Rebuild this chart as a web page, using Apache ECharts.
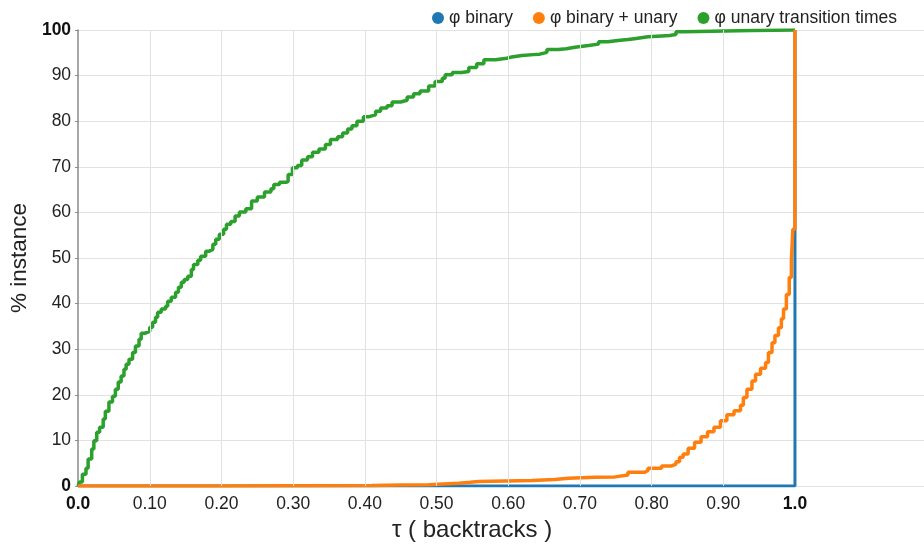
<!DOCTYPE html>
<html>
<head>
<meta charset="utf-8">
<script src="https://cdn.jsdelivr.net/npm/echarts@6/dist/echarts.min.js"></script>
<style>
  html, body { margin: 0; padding: 0; background: #fff; }
  #chart { width: 924px; height: 547px; }
</style>
</head>
<body>
<div id="chart"></div>
<script>
// Cumulative share of instances (%) solved within a given fraction tau of backtracks.
const seriesNames = ['φ binary', 'φ binary + unary', 'φ unary transition times'];

const binaryPoints = [[0, 0], [1.0, 0], [1.0, 100]];

const binaryUnaryPoints = [
  [0, 0], [0.19, 0.1], [0.41, 0.2], [0.45, 0.3], [0.489, 0.6], [0.531, 0.8], [0.547, 1.0],
  [0.559, 1.2], [0.633, 1.4], [0.665, 1.7], [0.684, 1.9], [0.721, 2.0], [0.749, 2.4],
  [0.767, 3.0], [0.790, 3.4], [0.795, 3.9], [0.814, 4.4], [0.828, 4.8], [0.834, 5.3],
  [0.839, 6.3], [0.844, 7.0], [0.851, 8.3], [0.860, 9.6], [0.869, 10.8], [0.878, 11.9],
  [0.887, 12.9], [0.896, 14.3], [0.905, 15.6], [0.915, 16.5], [0.924, 17.7], [0.928, 19.4],
  [0.933, 21.2], [0.940, 23.0], [0.945, 24.5], [0.952, 25.8], [0.959, 27.1], [0.963, 29.3],
  [0.968, 31.4], [0.972, 33.0], [0.977, 34.7], [0.981, 36.7], [0.984, 38.8], [0.988, 42.0],
  [0.992, 45.7], [0.995, 49.3], [0.997, 56.3], [1.0, 100]
];

const unaryTransitionPoints = [
  [0, 0], [0.002, 0.9], [0.006, 2.6], [0.011, 3.9], [0.014, 5.9], [0.019, 8.1], [0.022, 9.9],
  [0.026, 11.8], [0.030, 12.9], [0.035, 14.7], [0.038, 16.4], [0.043, 18.4], [0.048, 19.7],
  [0.052, 21.2], [0.056, 22.8], [0.060, 24.1], [0.064, 25.6], [0.067, 26.7], [0.071, 27.8],
  [0.076, 29.3], [0.080, 30.7], [0.085, 32.2], [0.088, 33.5], [0.093, 33.9], [0.100, 34.8],
  [0.104, 35.9], [0.108, 37.0], [0.111, 38.1], [0.116, 38.8], [0.122, 39.4], [0.125, 40.5],
  [0.130, 41.4], [0.136, 42.5], [0.140, 43.6], [0.144, 44.7], [0.148, 45.3], [0.153, 46.0],
  [0.158, 47.5], [0.161, 48.6], [0.167, 49.5], [0.171, 50.4], [0.178, 51.5], [0.183, 51.9],
  [0.188, 53.0], [0.192, 54.1], [0.197, 55.2], [0.203, 56.3], [0.207, 57.4], [0.213, 58.0],
  [0.219, 59.2], [0.225, 60.1], [0.234, 60.8], [0.242, 62.5], [0.250, 63.4], [0.260, 64.5],
  [0.269, 65.2], [0.273, 66.1], [0.281, 66.6], [0.290, 66.8], [0.293, 68.3], [0.299, 69.8],
  [0.306, 70.3], [0.312, 71.5], [0.320, 72.2], [0.327, 73.2], [0.336, 73.9], [0.345, 74.9],
  [0.352, 76.0], [0.362, 76.6], [0.369, 77.4], [0.376, 78.3], [0.382, 79.0], [0.389, 80.0],
  [0.398, 81.0], [0.406, 81.4], [0.415, 82.2], [0.422, 82.9], [0.431, 83.4], [0.438, 84.2],
  [0.450, 84.6], [0.459, 85.3], [0.468, 86.0], [0.477, 86.6], [0.489, 87.7], [0.498, 88.7],
  [0.508, 89.4], [0.512, 90.2], [0.522, 90.7], [0.535, 90.9], [0.545, 91.8], [0.556, 92.6],
  [0.566, 93.5], [0.582, 93.8], [0.598, 94.1], [0.605, 94.4], [0.619, 94.6], [0.635, 94.7],
  [0.644, 95.1], [0.654, 95.7], [0.670, 95.9], [0.681, 96.2], [0.693, 96.6], [0.712, 96.9],
  [0.726, 97.4], [0.739, 97.7], [0.753, 97.9], [0.767, 98.1], [0.776, 98.5], [0.795, 98.7],
  [0.814, 98.8], [0.825, 99.0], [0.834, 99.6], [0.846, 99.9], [0.940, 100], [1.0, 100]
];

// Axis ticks and their labels
const xTickValues = [0, 0.1, 0.2, 0.3, 0.4, 0.5, 0.6, 0.7, 0.8, 0.9, 1.0];
const xTickLabels = ['0.0', '0.10', '0.20', '0.30', '0.40', '0.50', '0.60', '0.70', '0.80', '0.90', '1.0'];
const xGridValues = [0.1, 0.2, 0.3, 0.4, 0.5, 0.6, 0.7, 0.8, 0.9];
const yBoldLabels = [0, 100];

const colors = ['#1f77b4', '#ff7f0e', '#2ca02c'];
const font = '"Liberation Sans", Arial, Helvetica, sans-serif';
const tickFontSize = 17.5;

function xLabel(v) {
  for (let i = 0; i < xTickValues.length; i++) {
    if (Math.abs(v - xTickValues[i]) < 1e-6) {
      const t = xTickLabels[i];
      return (i === 0 || i === xTickValues.length - 1) ? '{b|' + t + '}' : t;
    }
  }
  return '';
}

const chart = echarts.init(document.getElementById('chart'), null, { renderer: 'canvas' });

chart.setOption({
  animation: false,
  backgroundColor: '#ffffff',
  color: colors,
  textStyle: { fontFamily: font },
  legend: {
    data: seriesNames,
    top: 4,
    right: 22,
    icon: 'circle',
    itemWidth: 12,
    itemHeight: 12,
    itemGap: 20,
    textStyle: { fontSize: tickFontSize, color: '#222', fontFamily: font }
  },
  grid: { left: 74, right: 0, top: 30, bottom: 60, containLabel: false },
  xAxis: {
    type: 'value',
    min: 0,
    max: 1.18,
    interval: 0.1,
    name: 'τ ( backtracks )',
    nameLocation: 'middle',
    nameGap: 32,
    nameTextStyle: { fontSize: 24, color: '#222', fontFamily: font, padding: [0, 58, 0, 0] },
    axisLine: { show: false },
    axisTick: { show: false },
    splitLine: { show: false },
    axisLabel: {
      showMaxLabel: false,
      margin: 9,
      fontSize: tickFontSize,
      color: '#222',
      fontFamily: font,
      formatter: xLabel,
      rich: { b: { fontSize: tickFontSize, fontWeight: 'bold', color: '#111', fontFamily: font } }
    }
  },
  yAxis: {
    type: 'value',
    min: 0,
    max: 100,
    interval: 10,
    name: '% instance',
    nameLocation: 'middle',
    nameGap: 46,
    nameTextStyle: { fontSize: 22.5, color: '#222', fontFamily: font },
    axisLine: { show: true, lineStyle: { color: '#8a8a8a', width: 1.5 } },
    axisTick: { show: true, length: 3, lineStyle: { color: '#8a8a8a' } },
    splitLine: { show: true, lineStyle: { color: '#e2e2e2', width: 1 } },
    axisLabel: {
      margin: 7,
      fontSize: tickFontSize,
      color: '#222',
      fontFamily: font,
      formatter: function (v) {
        return yBoldLabels.indexOf(v) >= 0 ? '{b|' + v + '}' : String(v);
      },
      rich: { b: { fontSize: tickFontSize, fontWeight: 'bold', color: '#111', fontFamily: font } }
    }
  },
  series: [
    {
      // vertical grid lines at the labelled tau values
      type: 'line',
      data: [],
      silent: true,
      z: 1,
      markLine: {
        silent: true,
        symbol: ['none', 'none'],
        label: { show: false },
        lineStyle: { color: '#e2e2e2', width: 1, type: 'solid' },
        data: xGridValues.map(v => ({ xAxis: v }))
      }
    },
    {
      name: seriesNames[0],
      type: 'line',
      data: binaryPoints,
      showSymbol: false,
      z: 2,
      lineStyle: { width: 3, color: colors[0] },
      itemStyle: { color: colors[0] }
    },
    {
      name: seriesNames[2],
      type: 'line',
      step: 'end',
      data: unaryTransitionPoints,
      showSymbol: false,
      z: 3,
      lineStyle: { width: 3.5, color: colors[2] },
      itemStyle: { color: colors[2] }
    },
    {
      name: seriesNames[1],
      type: 'line',
      step: 'end',
      data: binaryUnaryPoints,
      showSymbol: false,
      z: 4,
      lineStyle: { width: 3.5, color: colors[1] },
      itemStyle: { color: colors[1] }
    }
  ]
});
</script>
</body>
</html>
